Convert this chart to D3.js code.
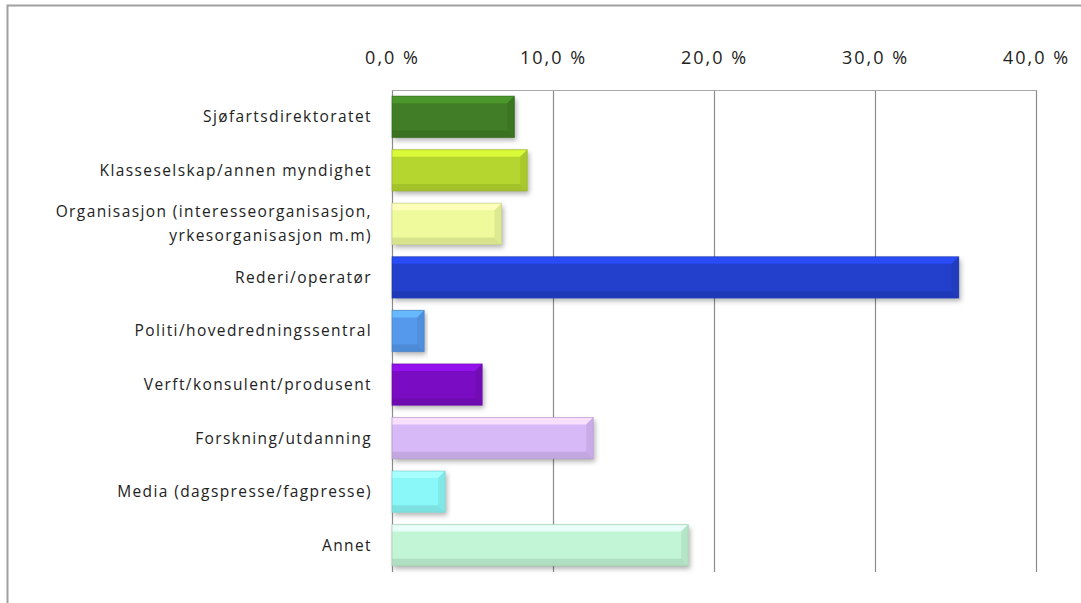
<!DOCTYPE html>
<html><head><meta charset="utf-8">
<script src="https://cdn.jsdelivr.net/npm/d3@7"></script>
<style>
html,body{margin:0;padding:0;background:#fff;}
svg{display:block;}
text{font-family:"Open Sans",Lato,sans-serif;fill:#222;}
</style></head>
<body>
<svg id="c" width="1081" height="603"></svg>
<script>
const categories = [
  "Sjøfartsdirektoratet",
  "Klasseselskap/annen myndighet",
  "Organisasjon (interesseorganisasjon,|yrkesorganisasjon m.m)",
  "Rederi/operatør",
  "Politi/hovedredningssentral",
  "Verft/konsulent/produsent",
  "Forskning/utdanning",
  "Media (dagspresse/fagpresse)",
  "Annet"
];
const values = [7.6, 8.4, 6.8, 35.2, 2.0, 5.6, 12.5, 3.3, 18.4];
const colors = ["#3f7d25","#b5d62f","#eefa9c","#2340cc","#5599ec","#7a0fc4","#d7b9f7","#8af8f8","#c2f5d5"];
const tickValues = [0, 10, 20, 30, 40];
const tickLabels = ["0,0 %","10,0 %","20,0 %","30,0 %","40,0 %"];

(function(){
const svg = d3.select("#c");
const pL = 392, pR = 1036, pT = 90, pB = 572;

svg.append("path").attr("d", "M7.5,603 L7.5,5.5 L1081,5.5")
  .attr("fill","none").attr("stroke","#a0a0a0").attr("stroke-width",2);

const x = d3.scaleLinear().domain([0,40]).range([pL,pR]);
const y = d3.scaleBand().domain(d3.range(categories.length)).range([pT,pB]).paddingInner(0.23).paddingOuter(0.115);

const defs = svg.append("defs");
const f = defs.append("filter").attr("id","sh").attr("x","-5%").attr("y","-20%").attr("width","115%").attr("height","160%");
f.append("feDropShadow").attr("dx",2).attr("dy",3).attr("stdDeviation",2.5).attr("flood-color","#000").attr("flood-opacity",0.3);

svg.append("g").selectAll("line").data(tickValues).join("line")
  .attr("x1", d=>x(d)+0.5).attr("x2", d=>x(d)+0.5).attr("y1", pT).attr("y2", pB)
  .attr("stroke","#8c8c8c").attr("stroke-width",1.2);
svg.append("line").attr("x1",pL).attr("x2",pR+1).attr("y1",pT+0.5).attr("y2",pT+0.5)
  .attr("stroke","#a8a8a8").attr("stroke-width",1);

const axis = d3.axisTop(x).tickValues(tickValues).tickFormat((d,i)=>tickLabels[i]).tickSize(0).tickPadding(0);
const ag = svg.append("g").attr("transform",`translate(0,${pT-26})`).call(axis);
ag.select(".domain").remove();
ag.selectAll("text").style("font-size","18px").style("font-family",'"Open Sans",sans-serif').attr("fill","#111").attr("dy","0").style("letter-spacing","2px");

const bg = svg.append("g");
values.forEach((v,i)=>{
  const c = d3.color(colors[i]);
  const x0 = x(0), x1 = x(v), y0 = y(i), h = y.bandwidth(), w = x1-x0;
  const b = 7;
  const g = bg.append("g");
  g.append("rect").attr("x",x0).attr("y",y0).attr("width",w).attr("height",h)
    .attr("fill",colors[i]).attr("filter","url(#sh)");
  g.append("path").attr("d",`M${x0},${y0} L${x1},${y0} L${x1-b},${y0+b} L${x0},${y0+b} Z`)
    .attr("fill", c.brighter(0.6)).attr("opacity",0.85);
  g.append("path").attr("d",`M${x0},${y0+h} L${x1},${y0+h} L${x1-b},${y0+h-b} L${x0},${y0+h-b} Z`)
    .attr("fill", c.darker(0.4)).attr("opacity",0.7);
  g.append("path").attr("d",`M${x1},${y0} L${x1},${y0+h} L${x1-b},${y0+h-b} L${x1-b},${y0+b} Z`)
    .attr("fill", c.darker(0.25)).attr("opacity",0.8);
  g.append("rect").attr("x",x0).attr("y",y0).attr("width",w).attr("height",h)
    .attr("fill","none").attr("stroke",c.darker(0.6)).attr("stroke-width",1).attr("opacity",0.6);
});

const lg = svg.append("g");
categories.forEach((c,i)=>{
  const lines = c.split("|");
  const cy = y(i) + y.bandwidth()/2;
  const t = lg.append("text").attr("x",372).attr("text-anchor","end").style("font-size","15.5px").style("letter-spacing","1.4px").attr("fill","#222");
  lines.forEach((l,j)=>{
    t.append("tspan").attr("x",372).attr("y", cy + (j - (lines.length-1)/2)*24).attr("dy","0.35em").text(l);
  });
});
})();
</script>
</body></html>
